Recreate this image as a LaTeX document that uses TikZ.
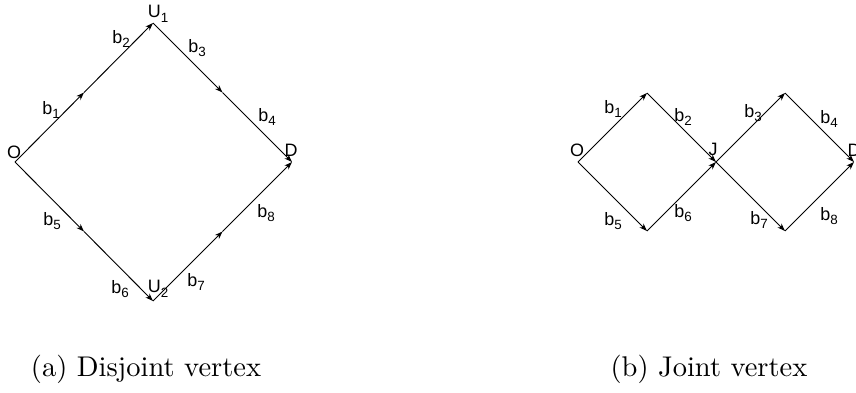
\documentclass[tikz,border=0pt]{standalone}
\usepackage{fontspec}
\usetikzlibrary{arrows.meta, calc}
\newfontfamily\lblfont{Liberation Sans}
\newcommand{\lsub}[1]{\raisebox{-1.7pt}{\fontsize{4.7}{5}\selectfont #1}}
\tikzset{
  vtx/.style={coordinate},
  lbl/.style={inner sep=0pt, font=\lblfont\fontsize{6.3}{7}\selectfont},
  captxt/.style={inner sep=0pt, font=\normalsize},
  arr/.style={-{Stealth[length=2.8pt, width=2pt]}, line width=0.33pt}
}

\begin{document}
\begin{tikzpicture}[x=0.351pt, y=-0.351pt]
\useasboundingbox (0,0) rectangle (856,392);
% (a) disjoint vertex
\coordinate[vtx] (O) at (15,162);
\coordinate[vtx] (U1) at (153,23);
\coordinate[vtx] (D) at (292,162);
\coordinate[vtx] (U2) at (153,301);
\coordinate (m1) at ($(O)!0.5!(U1)$);
\coordinate (m2) at ($(U1)!0.5!(D)$);
\coordinate (m3) at ($(O)!0.5!(U2)$);
\coordinate (m4) at ($(U2)!0.5!(D)$);
\draw[arr] (O) -- (m1);
\draw[arr] (m1) -- (U1);
\draw[arr] (U1) -- (m2);
\draw[arr] (m2) -- (D);
\draw[arr] (O) -- (m3);
\draw[arr] (m3) -- (U2);
\draw[arr] (U2) -- (m4);
\draw[arr] (m4) -- (D);
\node[lbl] (lO) at (14,152) {O};
\node[lbl] (lU1) at (158,14) {U\lsub{1}};
\node[lbl] (lD) at (291,150) {D};
\node[lbl] (lU2) at (158,289) {U\lsub{2}};
\node[lbl] (b1) at (51,110) {b\lsub{1}};
\node[lbl] (b2) at (121,39) {b\lsub{2}};
\node[lbl] (b3) at (197,48) {b\lsub{3}};
\node[lbl] (b4) at (267,117) {b\lsub{4}};
\node[lbl] (b5) at (52,221) {b\lsub{5}};
\node[lbl] (b6) at (120,289) {b\lsub{6}};
\node[lbl] (b7) at (196,282) {b\lsub{7}};
\node[lbl] (b8) at (266,213) {b\lsub{8}};
\node[captxt] (capa) at (146,369) {(a) Disjoint vertex};
% (b) joint vertex
\coordinate[vtx] (O2) at (578,162);
\coordinate[vtx] (T1) at (647,93);
\coordinate[vtx] (B1) at (647,231);
\coordinate[vtx] (J) at (716,162);
\coordinate[vtx] (T2) at (785,93);
\coordinate[vtx] (B2) at (785,231);
\coordinate[vtx] (D2) at (854,162);
\draw[arr] (O2) -- (T1);
\draw[arr] (T1) -- (J);
\draw[arr] (O2) -- (B1);
\draw[arr] (B1) -- (J);
\draw[arr] (J) -- (T2);
\draw[arr] (T2) -- (D2);
\draw[arr] (J) -- (B2);
\draw[arr] (B2) -- (D2);
\node[lbl] (lO2) at (577,150) {O};
\node[lbl] (lJ) at (713,149) {J};
\node[lbl] (lD2) at (854,150) {D};
\node[lbl] (c1) at (613,109) {b\lsub{1}};
\node[lbl] (c2) at (683,117) {b\lsub{2}};
\node[lbl] (c3) at (753,113) {b\lsub{3}};
\node[lbl] (c4) at (829,119) {b\lsub{4}};
\node[lbl] (c5) at (613,221) {b\lsub{5}};
\node[lbl] (c6) at (683,213) {b\lsub{6}};
\node[lbl] (c7) at (759,220) {b\lsub{7}};
\node[lbl] (c8) at (829,216) {b\lsub{8}};
\node[captxt] (capb) at (709,369) {(b) Joint vertex};
\end{tikzpicture}
\end{document}
